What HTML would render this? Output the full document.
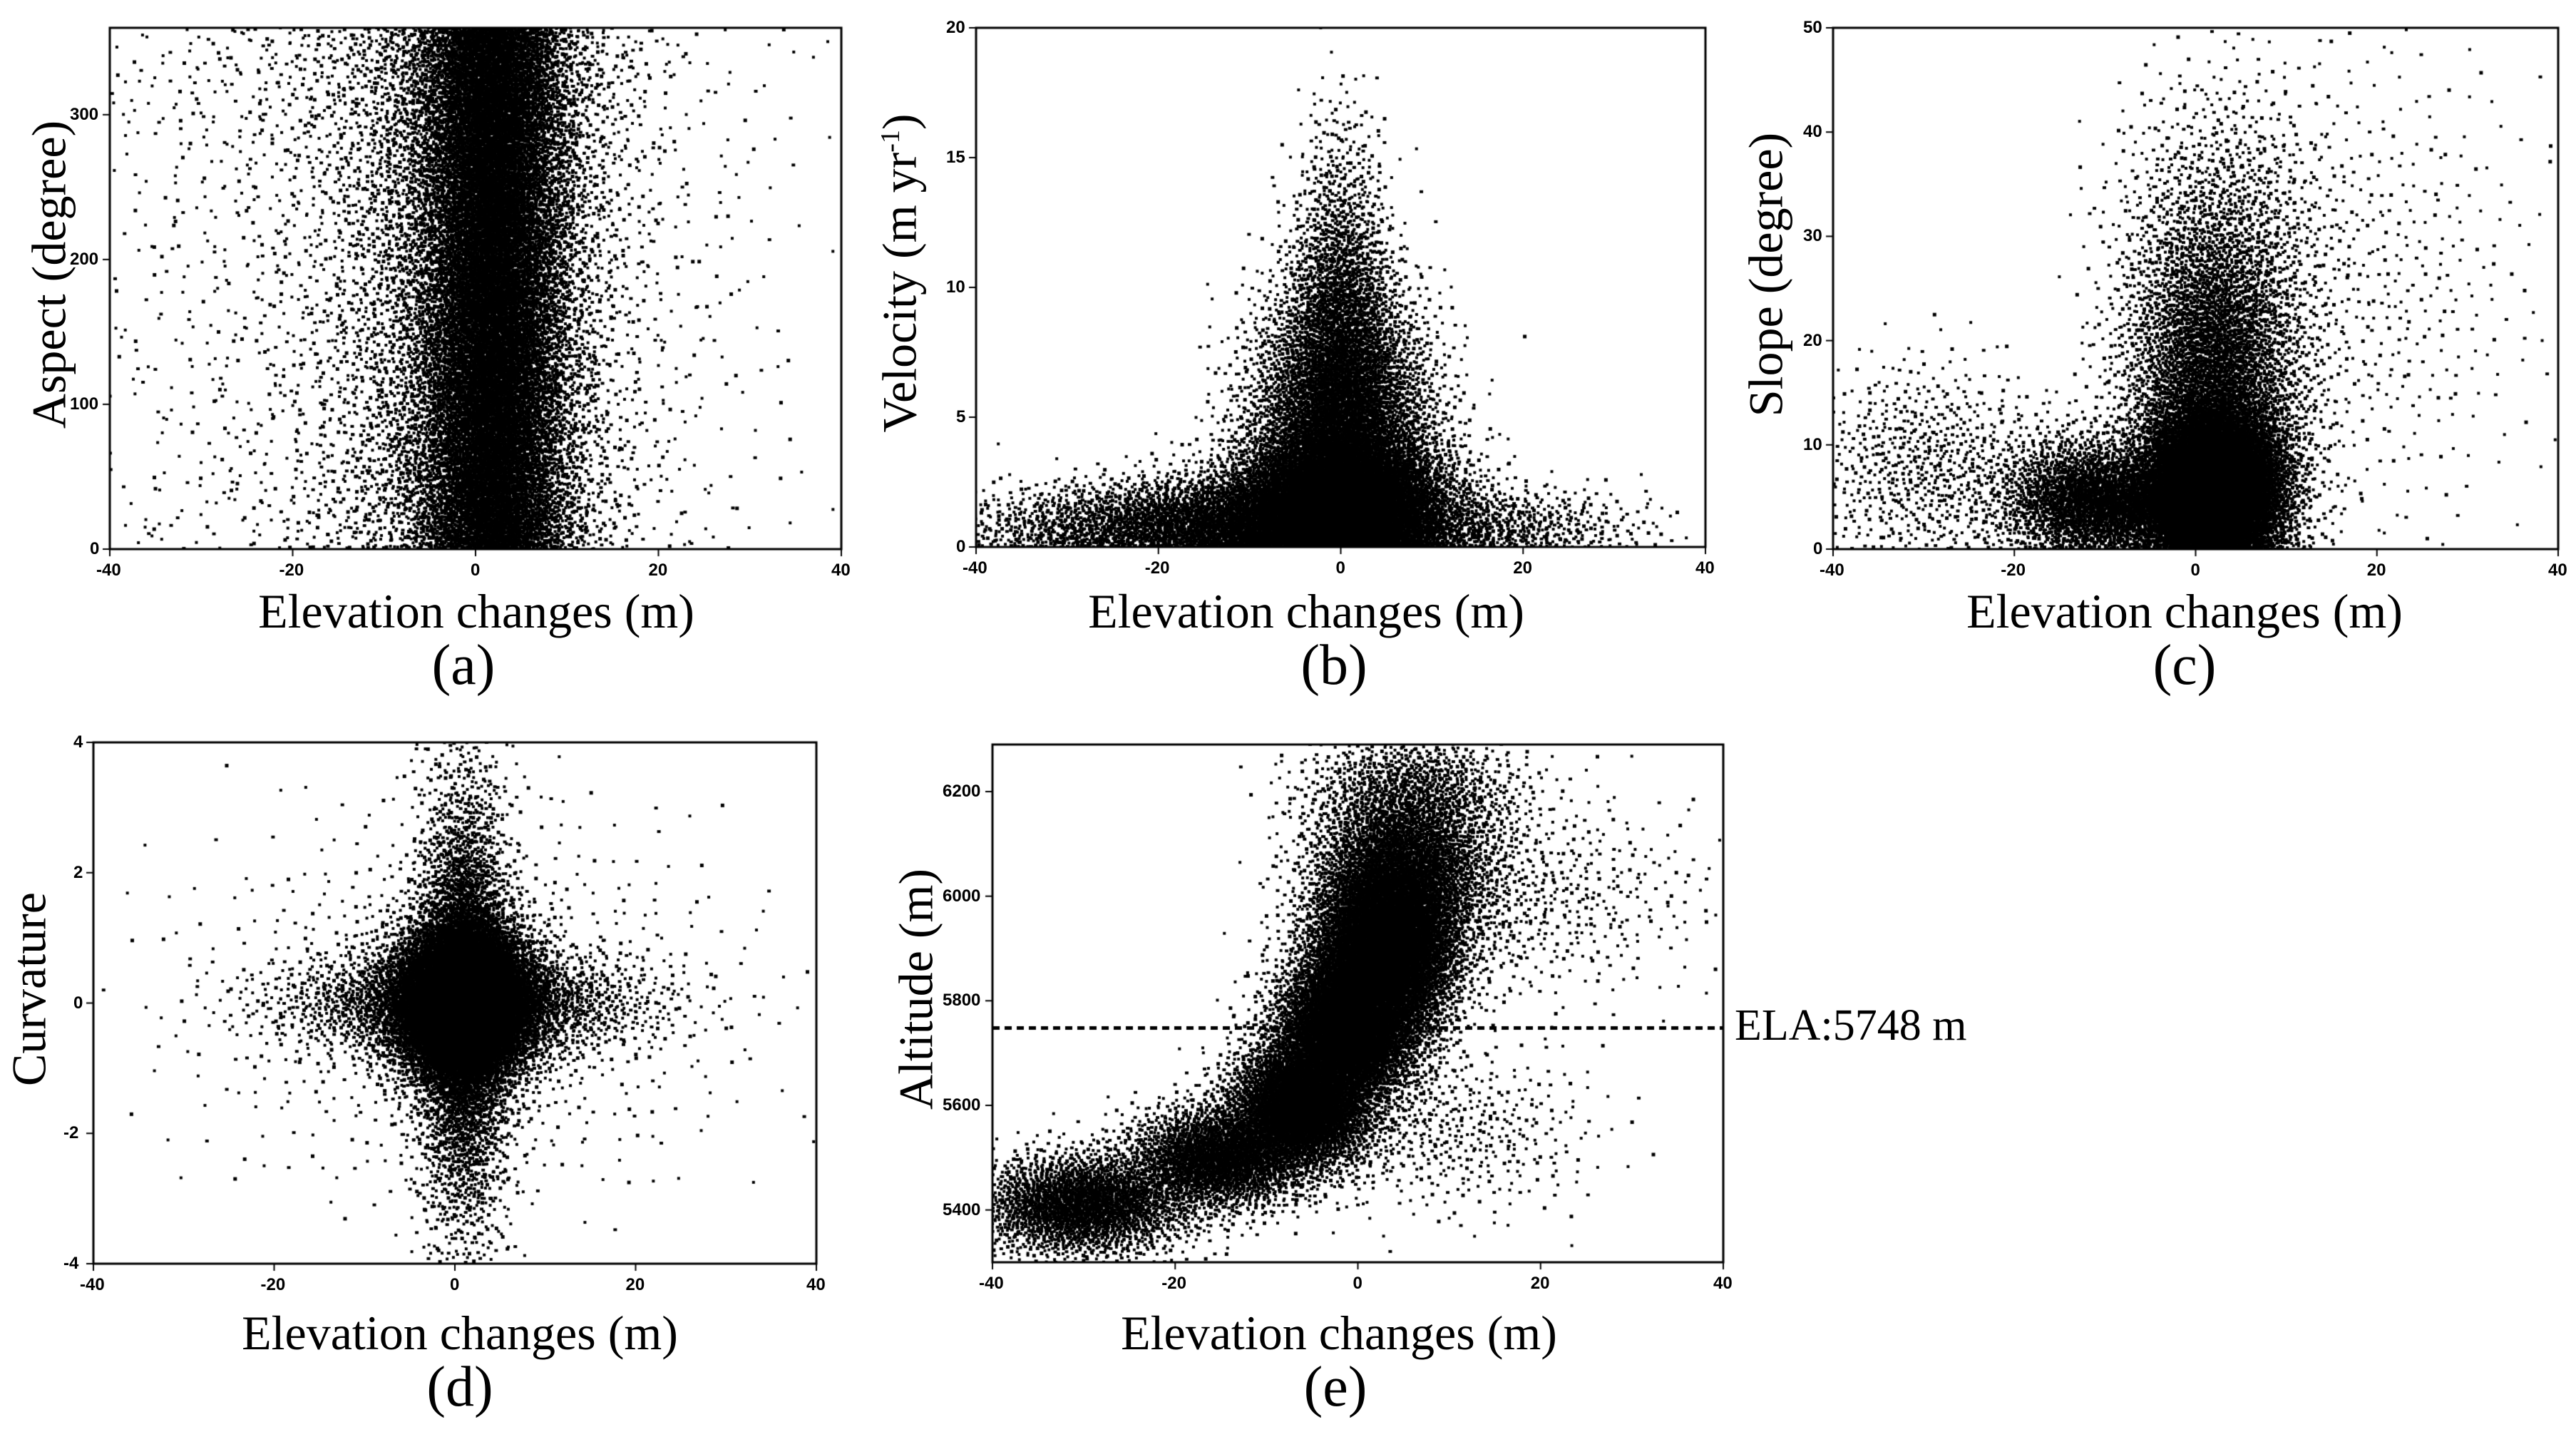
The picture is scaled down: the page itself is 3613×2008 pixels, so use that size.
<!DOCTYPE html>
<html><head><meta charset="utf-8">
<style>
html,body{margin:0;padding:0;background:#fff;}
body{width:3613px;height:2008px;position:relative;overflow:hidden;font-family:"Liberation Serif",serif;}
canvas{position:absolute;left:0;top:0;}
.t{position:absolute;white-space:nowrap;color:#000;}
.tick{font-family:"Liberation Sans",sans-serif;font-weight:bold;font-size:24px;}
.xt{font-size:68px;transform:translateX(-50%);}
.pl{font-size:80px;transform:translateX(-50%);}
.yt{font-size:68px;transform:translate(-50%,-50%) rotate(-90deg);}
</style></head>
<body>
<canvas id="cv" width="3613" height="2008"></canvas>
<div id="labels"></div>
<script>
// Panel (a): Aspect vs elevation change
const aCx=[2,2,2,2,2,2, 0,0,0,0,0,0, -12,-12,-12,-12,-12,-12, 12,12,12];
const aCy=[30,90,150,210,270,330, 30,90,150,210,270,330, 30,90,150,210,270,330, 60,180,300];
const aSx=[4,4,4,4,4,4, 8,8,8,8,8,8, 16,16,16,16,16,16, 14,14,14];
const aSy=[35,35,35,35,35,35, 35,35,35,35,35,35, 35,35,35,35,35,35, 60,60,60];
const aN=[2800,2800,2800,2800,2800,2800, 1000,1000,1000,1000,1000,1000, 250,200,220,220,250,400, 120,120,120];
// Panel (b): Velocity
const bCx=[0,0,0,-12,15,-28,0];
const bCy=[1.5,5,9,1,0.8,0.8,13];
const bSx=[6,5,3,9,9,8,2.5];
const bSy=[1.5,2.5,2.5,0.9,0.8,0.8,2.5];
const bN=[9000,5000,1500,2800,800,700,300];
// Panel (c): Slope
const cCx=[2,2,-12,-30,3,18,-5];
const cCy=[6,17,5,8,32,25,4];
const cSx=[4,5,5,7,6,10,6];
const cSy=[4,8,3,5,7,12,2];
const cN=[9000,4500,2000,700,700,500,1500];
// Panel (d): Curvature
const dCx=[1,1,1,1,1];
const dCy=[0,0,0,0,0];
const dSx=[4,2.5,10,15,3];
const dSy=[0.6,1.5,0.4,1.5,2.5];
const dN=[10000,4000,2500,800,1000];
// Panel (e): Altitude
const eCx=[-30,-15,-6,-1,3,5,6,18,10];
const eCy=[5410,5500,5600,5750,5900,6050,6200,6000,5550];
const eSx=[6,5,4,4,4,5,6,10,8];
const eSy=[50,50,60,70,80,80,60,100,80];
const eN=[2500,2500,4000,5000,6000,3000,1000,600,450];
// Tick labels
const xTicks=[-40,-20,0,20,40];
const aYTicks=[0,100,200,300];
const bYTicks=[0,5,10,15,20];
const cYTicks=[0,10,20,30,40,50];
const dYTicks=[-4,-2,0,2,4];
const eYTicks=[5400,5600,5800,6000,6200];
const ela=[5748];

const panels=[
 {id:'a',box:[154,39,1180,770],ymin:0,ymax:360,yt:aYTicks,cx:aCx,cy:aCy,sx:aSx,sy:aSy,n:aN,ytitle:'Aspect (degree)',ytx:69,xtc:668,plx:650,row:0},
 {id:'b',box:[1369,39,2392,767],ymin:0,ymax:20,yt:bYTicks,cx:bCx,cy:bCy,sx:bSx,sy:bSy,n:bN,abs:true,ytitle:'Velocity (m yr<sup style="font-size:38px">-1</sup>)',ytx:1262,xtc:1832,plx:1871,row:0},
 {id:'c',box:[2571,39,3588,770],ymin:0,ymax:50,yt:cYTicks,cx:cCx,cy:cCy,sx:cSx,sy:cSy,n:cN,abs:true,ytitle:'Slope (degree)',ytx:2477,xtc:3064,plx:3064,row:0},
 {id:'d',box:[131,1041,1145,1772],ymin:-4,ymax:4,yt:dYTicks,cx:dCx,cy:dCy,sx:dSx,sy:dSy,n:dN,ytitle:'Curvature',ytx:41,xtc:645,plx:645,row:1},
 {id:'e',box:[1392,1044,2417,1770],ymin:5300,ymax:6290,yt:eYTicks,cx:eCx,cy:eCy,sx:eSx,sy:eSy,n:eN,ytitle:'Altitude (m)',ytx:1285,xtc:1878,plx:1873,row:1}
];
function halton(i,b){let f=1,r=0;while(i>0){f/=b;r+=f*(i%b);i=Math.floor(i/b);}return r;}
const ctx=document.getElementById('cv').getContext('2d');
const L=document.getElementById('labels');
function lab(html,cls,x,y,name){const d=document.createElement('div');d.className='t '+cls;d.innerHTML=html;d.style.left=x+'px';d.style.top=y+'px';


L.appendChild(d);return d;}
let seed=1;
panels.forEach(p=>{
 const [x0,y0,x1,y1]=p.box;
 const X=v=>x0+(v+40)/80*(x1-x0);
 const Y=v=>y1-(v-p.ymin)/(p.ymax-p.ymin)*(y1-y0);
 ctx.save();ctx.beginPath();ctx.rect(x0,y0,x1-x0,y1-y0);ctx.clip();
 ctx.fillStyle='#000';
 for(let k=0;k<p.n.length;k++){
  for(let i=0;i<p.n[k];i++){
   seed++;
   const u1=Math.max(1e-6,halton(seed,2)),u2=halton(seed,3),u3=halton(seed,5);
   const r=Math.sqrt(-2*Math.log(u1));
   const z1=r*Math.cos(2*Math.PI*u2),z2=r*Math.sin(2*Math.PI*u2);
   let xv=p.cx[k]+p.sx[k]*z1;
   let yv=p.cy[k]+p.sy[k]*z2;
   if(p.abs&&yv<p.ymin)yv=p.ymin+(p.ymin-yv);
   if(p.id==='a'){if(yv<0)yv=-yv;if(yv>360)yv=720-yv;}
   ctx.fillRect(X(xv)-2,Y(yv)-2,4+(u3>0.6?1:0),4+(u3>0.8?1:0));
  }
 }
 ctx.restore();
 ctx.strokeStyle='#000';ctx.lineWidth=3;ctx.strokeRect(x0,y0,x1-x0,y1-y0);
 ctx.lineWidth=2;
 xTicks.forEach(t=>{ctx.beginPath();ctx.moveTo(X(t),y1);ctx.lineTo(X(t),y1+10);ctx.stroke();
  lab(String(t),'tick',X(t)-(t<0?19:String(t).length*7),y1+16,'x-tick-'+p.id);});
 p.yt.forEach(t=>{ctx.beginPath();ctx.moveTo(x0-10,Y(t));ctx.lineTo(x0,Y(t));ctx.stroke();
  const d=lab(String(t),'tick',0,Y(t)-14,'y-tick-'+p.id);d.style.left=(x0-14-String(t).length*14)+'px';});
 const ty=p.row===0?818:1830;
 lab('Elevation changes (m)','xt',p.xtc,ty,'x-axis-title-'+p.id);
 lab('('+p.id+')','pl',p.plx,ty+70,'panel-label-'+p.id);
 const yc=(y0+y1)/2;
 lab(p.ytitle,'yt',p.ytx,yc-20,'y-axis-title-'+p.id);
 if(p.id==='e'){
  ctx.setLineDash([10,7]);ctx.lineWidth=5;
  ctx.beginPath();ctx.moveTo(x0,Y(ela[0]));ctx.lineTo(x1,Y(ela[0]));ctx.stroke();ctx.setLineDash([]);
  lab('ELA:5748 m','',2433,Y(ela[0])-38,'ela-label').style.fontSize='62px';
 }
});
</script>
</body></html>
